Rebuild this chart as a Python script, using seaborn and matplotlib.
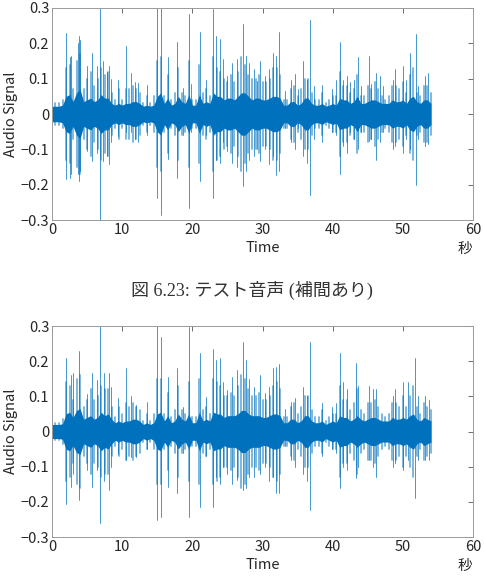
import numpy as np
import pandas as pd
import matplotlib
matplotlib.use("Agg")
import matplotlib.pyplot as plt
import seaborn as sns

# sample grid of the envelopes (seconds)
t_env = np.arange(0, 54.5, 0.5)

# dense core amplitude, upper plot (original)
core_top = [0.022, 0.022, 0.022, 0.025, 0.05, 0.055, 0.035, 0.06, 0.07, 0.035,
            0.04, 0.045, 0.035, 0.04, 0.055, 0.045, 0.045, 0.03, 0.025, 0.03,
            0.025, 0.03, 0.03, 0.035, 0.035, 0.03, 0.022, 0.025, 0.022, 0.025,
            0.05, 0.06, 0.03, 0.045, 0.025, 0.03, 0.05, 0.035, 0.03, 0.055,
            0.025, 0.025, 0.055, 0.03, 0.035, 0.03, 0.06, 0.05, 0.05, 0.04,
            0.045, 0.045, 0.04, 0.05, 0.06, 0.06, 0.05, 0.04, 0.045, 0.045,
            0.04, 0.04, 0.045, 0.05, 0.05, 0.045, 0.025, 0.025, 0.035, 0.035,
            0.025, 0.03, 0.045, 0.045, 0.03, 0.025, 0.025, 0.03, 0.022, 0.025,
            0.03, 0.025, 0.045, 0.04, 0.04, 0.03, 0.035, 0.05, 0.03, 0.03,
            0.035, 0.04, 0.04, 0.035, 0.03, 0.03, 0.03, 0.04, 0.035, 0.035,
            0.04, 0.03, 0.045, 0.05, 0.035, 0.03, 0.04, 0.04, 0.03]

# sparse burst envelope, upper plot
mid_top = [0.03, 0.03, 0.03, 0.04, 0.13, 0.14, 0.07, 0.15, 0.17, 0.07,
           0.10, 0.12, 0.08, 0.10, 0.13, 0.11, 0.12, 0.06, 0.04, 0.07,
           0.04, 0.07, 0.07, 0.08, 0.07, 0.06, 0.03, 0.05, 0.03, 0.05,
           0.15, 0.16, 0.05, 0.11, 0.04, 0.06, 0.13, 0.06, 0.05, 0.15,
           0.04, 0.04, 0.14, 0.06, 0.07, 0.05, 0.16, 0.13, 0.12, 0.10,
           0.09, 0.11, 0.09, 0.12, 0.16, 0.14, 0.11, 0.10, 0.10, 0.11,
           0.09, 0.09, 0.10, 0.13, 0.13, 0.11, 0.04, 0.04, 0.07, 0.08,
           0.05, 0.07, 0.10, 0.10, 0.06, 0.04, 0.04, 0.06, 0.03, 0.04,
           0.05, 0.05, 0.12, 0.08, 0.08, 0.06, 0.07, 0.11, 0.05, 0.05,
           0.08, 0.07, 0.09, 0.07, 0.05, 0.04, 0.05, 0.08, 0.08, 0.07,
           0.09, 0.06, 0.11, 0.13, 0.06, 0.05, 0.08, 0.08, 0.06]

# dense core amplitude, lower plot (interpolated)
core_bot = [0.02, 0.02, 0.02, 0.022, 0.05, 0.055, 0.04, 0.06, 0.065, 0.035,
            0.04, 0.045, 0.035, 0.04, 0.055, 0.045, 0.05, 0.035, 0.025, 0.03,
            0.025, 0.03, 0.03, 0.035, 0.035, 0.03, 0.02, 0.025, 0.02, 0.025,
            0.05, 0.055, 0.03, 0.045, 0.025, 0.03, 0.05, 0.035, 0.03, 0.05,
            0.025, 0.025, 0.055, 0.03, 0.035, 0.03, 0.055, 0.05, 0.05, 0.04,
            0.045, 0.045, 0.045, 0.05, 0.06, 0.06, 0.05, 0.045, 0.045, 0.045,
            0.04, 0.04, 0.045, 0.05, 0.05, 0.045, 0.025, 0.025, 0.035, 0.035,
            0.025, 0.03, 0.045, 0.045, 0.03, 0.025, 0.025, 0.03, 0.02, 0.025,
            0.03, 0.025, 0.045, 0.04, 0.04, 0.03, 0.035, 0.045, 0.035, 0.03,
            0.035, 0.04, 0.04, 0.035, 0.03, 0.03, 0.03, 0.04, 0.035, 0.035,
            0.04, 0.035, 0.045, 0.05, 0.035, 0.03, 0.04, 0.035, 0.03]

# sparse burst envelope, lower plot
mid_bot = [0.025, 0.025, 0.025, 0.035, 0.14, 0.13, 0.09, 0.15, 0.16, 0.07,
           0.09, 0.12, 0.09, 0.10, 0.13, 0.12, 0.12, 0.07, 0.04, 0.07,
           0.05, 0.08, 0.07, 0.08, 0.07, 0.06, 0.03, 0.05, 0.03, 0.05,
           0.15, 0.15, 0.05, 0.11, 0.04, 0.06, 0.13, 0.06, 0.05, 0.14,
           0.04, 0.04, 0.15, 0.06, 0.07, 0.05, 0.15, 0.14, 0.13, 0.10,
           0.10, 0.11, 0.10, 0.13, 0.16, 0.15, 0.12, 0.10, 0.10, 0.11,
           0.09, 0.09, 0.10, 0.13, 0.14, 0.12, 0.04, 0.04, 0.07, 0.08,
           0.05, 0.07, 0.10, 0.10, 0.06, 0.04, 0.04, 0.06, 0.03, 0.04,
           0.05, 0.05, 0.13, 0.09, 0.09, 0.06, 0.08, 0.12, 0.06, 0.05,
           0.08, 0.08, 0.09, 0.07, 0.05, 0.04, 0.05, 0.08, 0.08, 0.07,
           0.10, 0.07, 0.10, 0.13, 0.07, 0.05, 0.08, 0.07, 0.06]

# peak spikes, upper plot: time, max, min
spike_t_top = [1.95, 2.5, 2.66, 3.7, 3.85, 4.0, 4.94, 5.65, 6.36, 6.9,
               7.3, 7.9, 8.1, 8.4, 9.35, 10.5, 11.3, 11.8, 12.2, 13.6,
               14.9, 15.5, 16.5, 17.8, 18.6, 19.5, 19.8, 21.1, 22.0, 22.9,
               23.3, 23.9, 24.4, 25.0, 25.7, 26.4, 27.2, 27.6, 28.1, 28.8,
               29.2, 29.7, 30.3, 30.9, 31.5, 31.9, 32.4, 33.2, 34.1, 34.6,
               35.1, 35.8, 36.3, 36.7, 37.3, 38.5, 39.9, 40.5, 41.0, 41.5,
               42.0, 42.5, 43.0, 43.6, 44.0, 45.2, 45.5, 46.2, 46.7, 47.2,
               48.6, 48.9, 50.0, 50.4, 51.0, 51.8, 52.2, 53.1, 53.6]
spike_hi_top = [0.23, 0.16, 0.165, 0.20, 0.22, 0.21, 0.137, 0.174, 0.137, 0.30,
                0.15, 0.12, 0.137, 0.10, 0.097, 0.193, 0.116, 0.09, 0.088, 0.083,
                0.30, 0.30, 0.16, 0.203, 0.073, 0.284, 0.085, 0.231, 0.097, 0.298,
                0.22, 0.212, 0.155, 0.108, 0.145, 0.155, 0.255, 0.164, 0.145, 0.126,
                0.093, 0.15, 0.108, 0.126, 0.174, 0.164, 0.231, 0.064, 0.097, 0.112,
                0.07, 0.15, 0.097, 0.265, 0.078, 0.083, 0.07, 0.097, 0.205, 0.097,
                0.108, 0.09, 0.097, 0.16, 0.078, 0.164, 0.085, 0.116, 0.108, 0.078,
                0.097, 0.126, 0.137, 0.097, 0.174, 0.225, 0.078, 0.108, 0.116]
spike_lo_top = [-0.185, -0.18, -0.17, -0.17, -0.19, -0.16, -0.104, -0.133, -0.11, -0.30,
                -0.133, -0.12, -0.142, -0.08, -0.063, -0.05, -0.05, -0.07, -0.08, -0.058,
                -0.237, -0.286, -0.128, -0.18, -0.06, -0.266, -0.05, -0.19, -0.06, -0.238,
                -0.13, -0.14, -0.08, -0.104, -0.14, -0.15, -0.205, -0.16, -0.13, -0.12,
                -0.10, -0.133, -0.10, -0.142, -0.12, -0.173, -0.16, -0.04, -0.08, -0.10,
                -0.04, -0.12, -0.14, -0.228, -0.07, -0.08, -0.05, -0.06, -0.171, -0.09,
                -0.11, -0.05, -0.07, -0.10, -0.05, -0.075, -0.07, -0.13, -0.08, -0.05,
                -0.10, -0.09, -0.11, -0.07, -0.10, -0.20, -0.07, -0.09, -0.085]

# peak spikes, lower plot: time, max, min
spike_t_bot = [1.95, 2.66, 3.0, 3.85, 4.94, 5.65, 6.36, 6.9, 7.4, 8.1,
               8.4, 9.35, 10.5, 11.3, 12.0, 13.6, 14.9, 15.5, 16.5, 17.8,
               18.6, 19.5, 21.1, 22.0, 22.9, 23.3, 23.9, 24.4, 25.0, 25.7,
               26.4, 27.2, 27.6, 28.1, 28.8, 29.7, 30.3, 30.9, 31.5, 31.9,
               32.4, 33.2, 34.1, 34.6, 35.8, 36.3, 36.7, 38.5, 39.9, 40.5,
               41.0, 41.5, 42.0, 43.3, 43.6, 45.2, 45.7, 46.2, 48.6, 48.9,
               50.0, 50.7, 51.75, 52.2, 53.1, 53.7]
spike_hi_bot = [0.208, 0.16, 0.165, 0.23, 0.108, 0.165, 0.146, 0.30, 0.165, 0.165,
                0.127, 0.094, 0.18, 0.10, 0.075, 0.084, 0.30, 0.27, 0.155, 0.18,
                0.07, 0.298, 0.222, 0.097, 0.236, 0.203, 0.208, 0.14, 0.118, 0.155,
                0.174, 0.255, 0.203, 0.15, 0.127, 0.16, 0.11, 0.127, 0.18, 0.184,
                0.193, 0.065, 0.084, 0.094, 0.127, 0.10, 0.255, 0.08, 0.07, 0.08,
                0.222, 0.14, 0.12, 0.194, 0.13, 0.13, 0.12, 0.12, 0.10, 0.12,
                0.14, 0.14, 0.21, 0.10, 0.10, 0.09]
spike_lo_bot = [-0.205, -0.157, -0.12, -0.195, -0.11, -0.157, -0.11, -0.26, -0.14, -0.167,
                -0.10, -0.063, -0.08, -0.072, -0.072, -0.05, -0.252, -0.243, -0.157, -0.176,
                -0.06, -0.243, -0.214, -0.07, -0.214, -0.13, -0.15, -0.10, -0.12, -0.15,
                -0.138, -0.167, -0.16, -0.13, -0.13, -0.12, -0.10, -0.14, -0.13, -0.176,
                -0.176, -0.04, -0.08, -0.10, -0.12, -0.14, -0.224, -0.07, -0.05, -0.06,
                -0.16, -0.10, -0.11, -0.133, -0.10, -0.08, -0.10, -0.13, -0.10, -0.09,
                -0.11, -0.08, -0.19, -0.08, -0.08, -0.08]

x_ticks = [0, 10, 20, 30, 40, 50, 60]
y_ticks = [-0.3, -0.2, -0.1, 0, 0.1, 0.2, 0.3]
y_ticklabels = ["\u22120.3", "\u22120.2", "\u22120.1", "0", "0.1", "0.2", "0.3"]
caption = "図 6.23: テスト音声 (補間あり)"

blue = "#0072BD"
grey = "#9a9a9a"

sns.set_theme(style="white")
plt.rcParams["font.family"] = ["Noto Sans CJK JP", "DejaVu Sans"]


def segments_df(ts, his, los):
    # one vertical segment per sample, kept apart by "id"
    rows = []
    for i, (t, hi, lo) in enumerate(zip(ts, his, los)):
        rows.append({"t": t, "v": lo, "id": i})
        rows.append({"t": t, "v": hi, "id": i})
    return pd.DataFrame(rows)


def draw(ax, core, mid, ts, his, los):
    core = np.array(core)
    mid = np.array(mid)
    sns.lineplot(data=segments_df(t_env, mid, -mid), x="t", y="v", units="id",
                 estimator=None, sort=False, color=blue, lw=1.3, alpha=0.55,
                 ax=ax)
    ax.fill_between(t_env, -core, core, color=blue, lw=0)
    sns.lineplot(data=segments_df(ts, his, los), x="t", y="v", units="id",
                 estimator=None, sort=False, color=blue, lw=0.6, alpha=0.85,
                 ax=ax)
    ax.set_xlim(0, 60)
    ax.set_ylim(-0.3, 0.3)
    ax.set_xticks(x_ticks)
    ax.set_xticklabels([str(v) for v in x_ticks])
    ax.set_yticks(y_ticks)
    ax.set_yticklabels(y_ticklabels)
    ax.tick_params(direction="in", top=True, right=True, length=3.5,
                   width=0.6, color="#555555", labelsize=10.5,
                   labelcolor="#262626", pad=2)
    for s in ax.spines.values():
        s.set_color(grey)
        s.set_linewidth(0.7)
    ax.set_xlabel("Time", fontsize=10.5, color="#262626", labelpad=3)
    ax.set_ylabel("Audio Signal", fontsize=10.5, color="#262626", labelpad=2)
    ax.text(0.981, -0.135, "秒", transform=ax.transAxes, ha="center",
            va="center", fontsize=10.5, color="#262626")


fig = plt.figure(figsize=(4.84, 5.83), dpi=100)
ax1 = fig.add_axes([0.1074, 0.6226, 0.870, 0.3637])
ax2 = fig.add_axes([0.1074, 0.0789, 0.870, 0.3619])

draw(ax1, core_top, mid_top, spike_t_top, spike_hi_top, spike_lo_top)
draw(ax2, core_bot, mid_bot, spike_t_bot, spike_hi_bot, spike_lo_bot)

fig.text(0.521, 1 - 290.5 / 583, caption, ha="center", va="center",
         fontsize=13, color="#333333",
         family=["Liberation Serif", "Noto Sans CJK JP"])

fig.savefig("out.png", dpi=100)
